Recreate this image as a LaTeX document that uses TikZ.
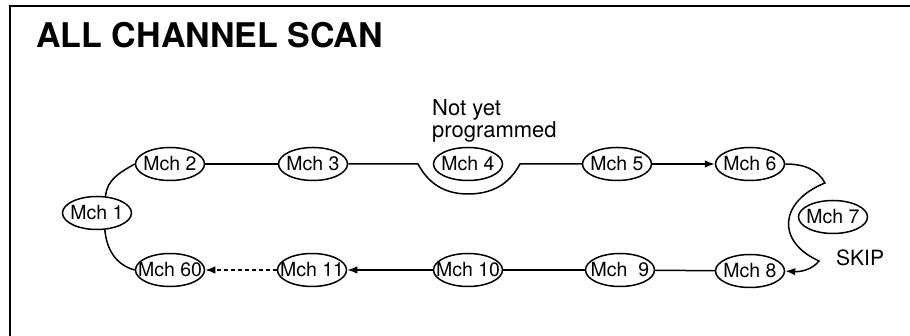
\documentclass[tikz,border=0pt]{standalone}
\usepackage{fontspec}
\setmainfont{TeX Gyre Heros}
\usetikzlibrary{shapes.geometric,arrows.meta}
\begin{document}
\begin{tikzpicture}[x=1pt,y=1pt,
  ch/.style={draw, ellipse, line width=1.5pt, minimum width=69pt, minimum height=33pt,
    inner sep=0pt, font=\fontsize{19.5}{21}\selectfont},
  conn/.style={line width=1.5pt},
  arr/.style={conn, -{Latex[length=10pt,width=7.5pt]}},
  dashline/.style={dash pattern=on 4pt off 3pt}]
\useasboundingbox (0,0) rectangle (910,336);
\draw[line width=2.2pt] (10,-2) -- (10,330) -- (912,330);
\node[anchor=base west, inner sep=0pt, font=\fontsize{34}{36}\selectfont\bfseries] (title) at (36,288) {ALL CHANNEL SCAN};
\node[anchor=north west, inner sep=0pt, align=left, font=\fontsize{22}{20.5}\selectfont] (note) at (432,237) {Not yet\\programmed};
\node[anchor=base west, inner sep=0pt, font=\fontsize{21}{22}\selectfont] (skip) at (836,70) {SKIP};
\node[ch] (m1) at (97,123) {\makebox[0pt]{Mch 1}};
\node[ch] (m2) at (170,172) {\makebox[0pt]{Mch 2}};
\node[ch] (m3) at (313,172) {\makebox[0pt]{Mch 3}};
\node[ch] (m4) at (468,172) {\makebox[0pt]{Mch 4}};
\node[ch] (m5) at (617,172) {\makebox[0pt]{Mch 5}};
\node[ch] (m6) at (750,172) {\makebox[0pt]{Mch 6}};
\node[ch] (m7) at (833,119) {\makebox[0pt]{Mch 7}};
\node[ch] (m8) at (750,65) {\makebox[0pt]{Mch 8}};
\node[ch] (m9) at (620,66) {\makebox[0pt]{Mch~~9}};
\node[ch] (m10) at (468,66) {\makebox[0pt]{Mch 10}};
\node[ch] (m11) at (312,66) {\makebox[0pt]{Mch 11}};
\node[ch] (m60) at (170,66) {\makebox[0pt]{Mch 60}};
\draw[conn] (m1.63) to[out=85,in=210] (m2.west);
\draw[conn] (m1.-65) to[out=-85,in=165] (m60.west);
\draw[conn] (m2) -- (m3);
\draw[conn] (m3.east) -- (418,172) to[out=-62,in=180] (468,142) to[out=0,in=-118] (520,172) -- (m5.west);
\draw[arr] (m5) -- (m6);
\draw[arr] (m6.east) .. controls (805,172) and (818,166) .. (825,153) .. controls (780,135) and (775,95) .. (819,75) .. controls (812,66) and (800,64) .. (m8.east);
\draw[conn] (m8) -- (m9);
\draw[conn] (m9) -- (m10);
\draw[arr] (m10) -- (m11);
\draw[arr, dashline] (m11) -- (m60);
\end{tikzpicture}
\end{document}
